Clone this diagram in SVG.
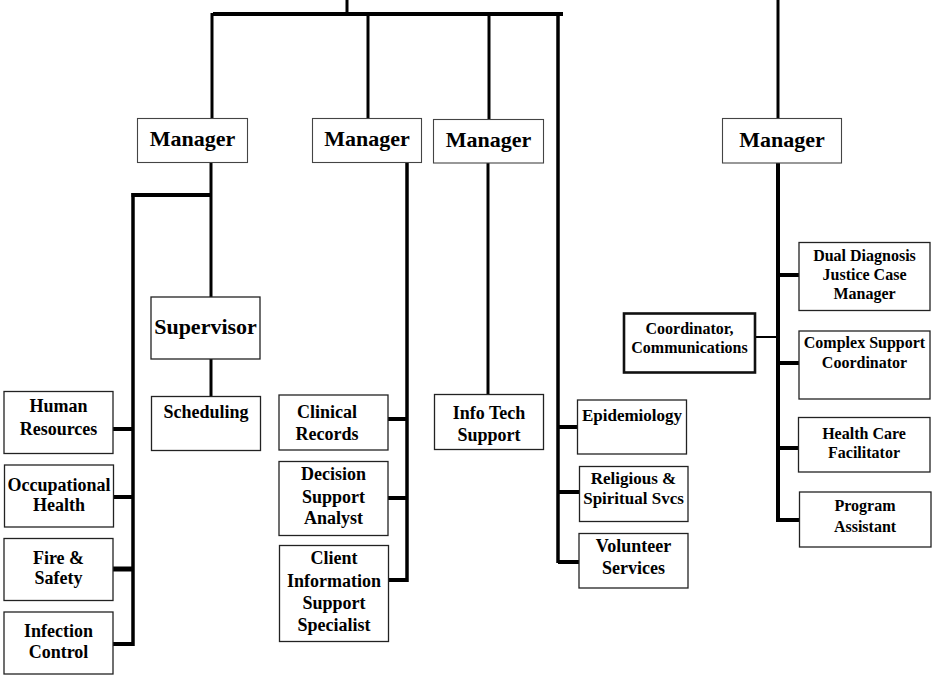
<svg xmlns="http://www.w3.org/2000/svg" width="948" height="688" viewBox="0 0 948 688">
<style>
.box{fill:#fff;stroke:#222;stroke-width:1.3}
.mgr{fill:#fff;stroke:#444;stroke-width:1.1}
.thick{fill:#fff;stroke:#111;stroke-width:2.6}
text{font-family:"Liberation Serif","Times New Roman",serif;font-weight:bold;fill:#000;text-anchor:middle}
.t22{font-size:22px}
.t18{font-size:18px}
.t17{font-size:17px}
.t16{font-size:16px}
.ln{stroke:#000;fill:none}
</style>
<rect width="948" height="688" fill="#fff"/>
<g id="connectors">
<line class="ln" x1="347" y1="0" x2="347" y2="15" stroke-width="3"/>
<line class="ln" x1="213" y1="14" x2="563" y2="14" stroke-width="4"/>
<line class="ln" x1="212" y1="13" x2="212" y2="119" stroke-width="3"/>
<line class="ln" x1="368" y1="14" x2="368" y2="119" stroke-width="3"/>
<line class="ln" x1="489" y1="14" x2="489" y2="120" stroke-width="3"/>
<line class="ln" x1="558" y1="12" x2="558" y2="563" stroke-width="3.5"/>
<line class="ln" x1="778" y1="0" x2="778" y2="119" stroke-width="3"/>
<line class="ln" x1="778" y1="163" x2="778" y2="522" stroke-width="4"/>
<line class="ln" x1="211" y1="162" x2="211" y2="297" stroke-width="3"/>
<line class="ln" x1="131.5" y1="195" x2="212" y2="195" stroke-width="4"/>
<line class="ln" x1="133" y1="193" x2="133" y2="646" stroke-width="3.5"/>
<line class="ln" x1="113" y1="429" x2="133" y2="429" stroke-width="4"/>
<line class="ln" x1="113" y1="497" x2="133" y2="497" stroke-width="4"/>
<line class="ln" x1="113" y1="569" x2="133" y2="569" stroke-width="5"/>
<line class="ln" x1="113" y1="644" x2="133" y2="644" stroke-width="4"/>
<line class="ln" x1="211" y1="359" x2="211" y2="396" stroke-width="3"/>
<line class="ln" x1="407" y1="162" x2="407" y2="582" stroke-width="3.5"/>
<line class="ln" x1="388" y1="419" x2="407" y2="419" stroke-width="4"/>
<line class="ln" x1="388" y1="498" x2="407" y2="498" stroke-width="4"/>
<line class="ln" x1="388" y1="580" x2="407" y2="580" stroke-width="4"/>
<line class="ln" x1="488" y1="163" x2="488" y2="394" stroke-width="3"/>
<line class="ln" x1="558" y1="427" x2="577" y2="427" stroke-width="4"/>
<line class="ln" x1="558" y1="492" x2="579" y2="492" stroke-width="4"/>
<line class="ln" x1="558" y1="562" x2="579" y2="562" stroke-width="4"/>
<line class="ln" x1="778" y1="275" x2="799" y2="275" stroke-width="4"/>
<line class="ln" x1="755" y1="337" x2="778" y2="337" stroke-width="2"/>
<line class="ln" x1="778" y1="363" x2="799" y2="363" stroke-width="4"/>
<line class="ln" x1="778" y1="448" x2="798" y2="448" stroke-width="4"/>
<line class="ln" x1="778" y1="520" x2="799" y2="520" stroke-width="4"/>
</g>
<g id="manager1"><rect class="mgr" x="137.5" y="118.5" width="110" height="44"/><text class="t22" x="192.5" y="146">Manager</text></g>
<g id="manager2"><rect class="mgr" x="312.5" y="118.5" width="109" height="44"/><text class="t22" x="367" y="146">Manager</text></g>
<g id="manager3"><rect class="mgr" x="433.5" y="119.5" width="110" height="43.5"/><text class="t22" x="488.5" y="147">Manager</text></g>
<g id="manager4"><rect class="mgr" x="722.5" y="118.5" width="119" height="44.5"/><text class="t22" x="782" y="147">Manager</text></g>
<g id="supervisor"><rect class="box" x="151" y="297" width="109" height="62"/><text class="t22" x="205.5" y="334">Supervisor</text></g>
<g id="scheduling"><rect class="box" x="151.5" y="396.5" width="109" height="54"/><text class="t18" x="206" y="418">Scheduling</text></g>
<g id="human-resources"><rect class="box" x="4" y="391.5" width="109" height="62"/><text class="t18" x="58.5" y="411.5">Human</text><text class="t18" x="58.5" y="435">Resources</text></g>
<g id="occupational-health"><rect class="box" x="4.5" y="465" width="109" height="62"/><text class="t18" x="59" y="490.5">Occupational</text><text class="t18" x="59" y="511">Health</text></g>
<g id="fire-safety"><rect class="box" x="4" y="538.5" width="109" height="62"/><text class="t18" x="58.5" y="564">Fire &amp;</text><text class="t18" x="58.5" y="584">Safety</text></g>
<g id="infection-control"><rect class="box" x="4" y="612" width="109" height="62"/><text class="t18" x="58.5" y="637">Infection</text><text class="t18" x="58.5" y="658">Control</text></g>
<g id="clinical-records"><rect class="box" x="279" y="395" width="109" height="55"/><text class="t18" x="327" y="418">Clinical</text><text class="t18" x="327" y="440">Records</text></g>
<g id="decision-support"><rect class="box" x="279" y="461.5" width="109" height="74"/><text class="t18" x="333.5" y="480">Decision</text><text class="t18" x="333.5" y="502.5">Support</text><text class="t18" x="333.5" y="524">Analyst</text></g>
<g id="client-info"><rect class="box" x="279.5" y="545.5" width="109" height="96"/><text class="t18" x="334" y="564">Client</text><text class="t18" x="334" y="587">Information</text><text class="t18" x="334" y="608.5">Support</text><text class="t18" x="334" y="630.5">Specialist</text></g>
<g id="info-tech"><rect class="box" x="434.5" y="394.5" width="109" height="55"/><text class="t18" x="489" y="419">Info Tech</text><text class="t18" x="489" y="440.5">Support</text></g>
<g id="epidemiology"><rect class="box" x="577.5" y="400" width="109" height="54"/><text class="t17" x="632" y="421">Epidemiology</text></g>
<g id="religious"><rect class="box" x="579.5" y="466.5" width="108.5" height="55"/><text class="t17" x="633.5" y="484">Religious &amp;</text><text class="t17" x="633.5" y="504">Spiritual Svcs</text></g>
<g id="volunteer"><rect class="box" x="579" y="533.5" width="109" height="54.5"/><text class="t18" x="633.5" y="551.5">Volunteer</text><text class="t18" x="633.5" y="574">Services</text></g>
<g id="dual-diagnosis"><rect class="box" x="799" y="242.5" width="131" height="68"/><text class="t16" x="864.5" y="260.5">Dual Diagnosis</text><text class="t16" x="864.5" y="280">Justice Case</text><text class="t16" x="864.5" y="299">Manager</text></g>
<g id="coordinator-communications"><rect class="thick" x="624" y="313.5" width="131" height="59"/><text class="t16" x="689.5" y="334">Coordinator,</text><text class="t16" x="689.5" y="352.5">Communications</text></g>
<g id="complex-support"><rect class="box" x="799" y="331" width="131" height="68"/><text class="t16" x="864.5" y="348">Complex Support</text><text class="t16" x="864.5" y="367.5">Coordinator</text></g>
<g id="health-care"><rect class="box" x="798.5" y="417.5" width="131.5" height="54.5"/><text class="t16" x="864" y="439">Health Care</text><text class="t16" x="864" y="458">Facilitator</text></g>
<g id="program-assistant"><rect class="box" x="799.5" y="492" width="131.5" height="55"/><text class="t16" x="865" y="511">Program</text><text class="t16" x="865" y="532">Assistant</text></g>
</svg>
